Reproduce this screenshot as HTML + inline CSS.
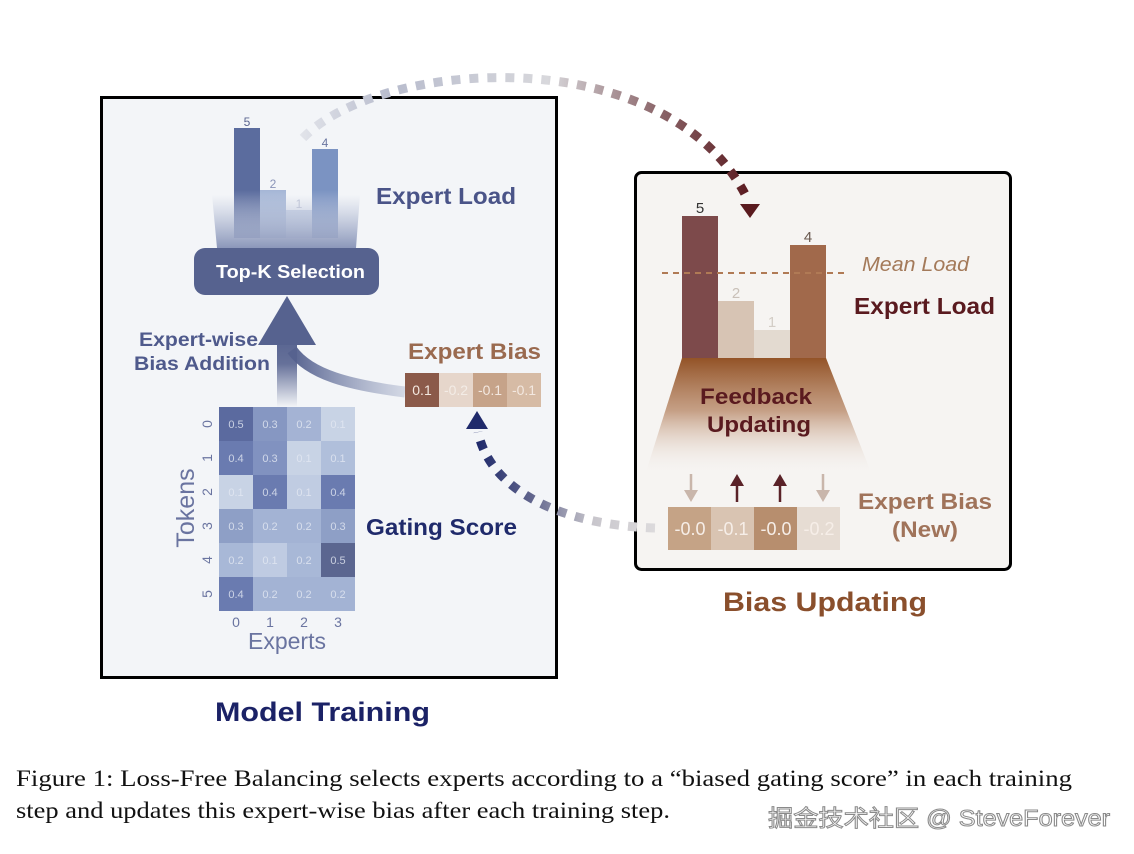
<!DOCTYPE html>
<html><head><meta charset="utf-8"><style>
body{margin:0;background:#fff;width:1134px;height:854px;overflow:hidden}
svg{display:block}
.s{font-family:"Liberation Sans",Arial,sans-serif}
</style></head><body>
<svg width="1134" height="854" viewBox="0 0 1134 854" xmlns="http://www.w3.org/2000/svg">
<defs>
<linearGradient id="barfade" x1="0" y1="0" x2="0" y2="1"><stop offset="0" stop-color="#f3f5f8" stop-opacity="0"/><stop offset="1" stop-color="#f3f5f8" stop-opacity="0.85"/></linearGradient>
<linearGradient id="funnelL" x1="0" y1="0" x2="0" y2="1"><stop offset="0" stop-color="#7a8cb8" stop-opacity="0"/><stop offset="1" stop-color="#5a6a9c" stop-opacity="0.9"/></linearGradient>
<linearGradient id="shaft" x1="0" y1="1" x2="0" y2="0"><stop offset="0" stop-color="#56628f" stop-opacity="0"/><stop offset="0.6" stop-color="#56628f" stop-opacity="0.9"/><stop offset="1" stop-color="#56628f"/></linearGradient>
<linearGradient id="curve" x1="1" y1="0" x2="0" y2="0"><stop offset="0" stop-color="#8a96b8" stop-opacity="0.3"/><stop offset="1" stop-color="#56628f"/></linearGradient>
<linearGradient id="funnelR" x1="0" y1="0" x2="0" y2="1"><stop offset="0" stop-color="#935327"/><stop offset="0.45" stop-color="#b98a6a" stop-opacity="0.8"/><stop offset="1" stop-color="#f6f4f2" stop-opacity="0"/></linearGradient>
<linearGradient id="dashTop" gradientUnits="userSpaceOnUse" x1="300" y1="0" x2="750" y2="0"><stop offset="0" stop-color="#e2e4ea"/><stop offset="0.2" stop-color="#b8bccd"/><stop offset="0.55" stop-color="#d8d8dc"/><stop offset="0.8" stop-color="#8a6468"/><stop offset="1" stop-color="#5a1a1f"/></linearGradient>
<linearGradient id="dashBot" gradientUnits="userSpaceOnUse" x1="655" y1="0" x2="478" y2="0"><stop offset="0" stop-color="#dcdadc"/><stop offset="0.35" stop-color="#c8c6cc"/><stop offset="0.7" stop-color="#60648c"/><stop offset="1" stop-color="#1f2a6b"/></linearGradient>
</defs>

<rect x="101.5" y="97.5" width="455" height="580" fill="#f3f5f8" stroke="#000" stroke-width="3"/>
<rect x="635.5" y="172.5" width="375" height="397" rx="6" fill="#f6f4f2" stroke="#000" stroke-width="3"/>

<rect x="234" y="128" width="26" height="110" fill="#5b6c9e"/>
<rect x="260" y="190" width="26" height="48" fill="#a5b6d6"/>
<rect x="286" y="210" width="26" height="28" fill="#c9d3e6"/>
<rect x="312" y="149" width="26" height="89" fill="#7b93c2"/>
<rect x="220" y="190" width="130" height="50" fill="url(#barfade)"/>
<polygon points="212,195 360,195 356,248 217,248" fill="url(#funnelL)" opacity="0.75"/>
<g class="s" font-size="12" text-anchor="middle"><text x="247" y="126" fill="#5b6590">5</text><text x="273" y="188" fill="#8a94b8">2</text><text x="299" y="208" fill="#c0c6d8">1</text><text x="325" y="147" fill="#6a76a0">4</text></g>
<rect x="194" y="248" width="185" height="47" rx="11" fill="#56628f"/>
<text class="s" x="216" y="278" font-size="18" font-weight="bold" fill="#fff" textLength="149" lengthAdjust="spacingAndGlyphs">Top-K Selection</text>
<text class="s" x="376" y="204" font-size="23" font-weight="bold" fill="#4a5488" textLength="140" lengthAdjust="spacingAndGlyphs">Expert Load</text>

<path d="M405,392 C350,385 310,375 292,350" stroke="url(#curve)" stroke-width="11" fill="none"/>
<rect x="277" y="335" width="20" height="72" fill="url(#shaft)"/>
<polygon points="287,296 316,345 258,345" fill="#56628f"/>
<g class="s" font-size="19" font-weight="bold" fill="#4f5a8c"><text x="139" y="346" textLength="119" lengthAdjust="spacingAndGlyphs">Expert-wise</text><text x="134" y="370" textLength="136" lengthAdjust="spacingAndGlyphs">Bias Addition</text></g>

<text class="s" x="408" y="359" font-size="22" font-weight="bold" fill="#9a6a4f" textLength="133" lengthAdjust="spacingAndGlyphs">Expert Bias</text>
<rect x="405" y="373" width="34" height="34" fill="#8b5a4a"/><rect x="439" y="373" width="34" height="34" fill="#e6d6cb"/><rect x="473" y="373" width="34" height="34" fill="#c6a389"/><rect x="507" y="373" width="34" height="34" fill="#d6bba5"/>
<g class="s" font-size="14" fill="#f3e8e0" text-anchor="middle"><text x="422" y="395">0.1</text><text x="456" y="395" fill="#f3ece6">-0.2</text><text x="490" y="395">-0.1</text><text x="524" y="395">-0.1</text></g>

<g>
<rect x="219" y="407" width="34" height="34" fill="#5b6a9f"/><rect x="253" y="407" width="34" height="34" fill="#8697c2"/><rect x="287" y="407" width="34" height="34" fill="#a4b3d4"/><rect x="321" y="407" width="34" height="34" fill="#c8d3e5"/>
<rect x="219" y="441" width="34" height="34" fill="#6a7bb0"/><rect x="253" y="441" width="34" height="34" fill="#8192c0"/><rect x="287" y="441" width="34" height="34" fill="#c8d3e5"/><rect x="321" y="441" width="34" height="34" fill="#b0bfdb"/>
<rect x="219" y="475" width="34" height="34" fill="#c8d3e5"/><rect x="253" y="475" width="34" height="34" fill="#6a7bb0"/><rect x="287" y="475" width="34" height="34" fill="#c0cce2"/><rect x="321" y="475" width="34" height="34" fill="#6a7bb0"/>
<rect x="219" y="509" width="34" height="34" fill="#8e9fc6"/><rect x="253" y="509" width="34" height="34" fill="#a3b3d4"/><rect x="287" y="509" width="34" height="34" fill="#a3b3d4"/><rect x="321" y="509" width="34" height="34" fill="#8e9fc6"/>
<rect x="219" y="543" width="34" height="34" fill="#a8b8d7"/><rect x="253" y="543" width="34" height="34" fill="#bfcbe2"/><rect x="287" y="543" width="34" height="34" fill="#a8b8d7"/><rect x="321" y="543" width="34" height="34" fill="#5b6690"/>
<rect x="219" y="577" width="34" height="34" fill="#6a7bb0"/><rect x="253" y="577" width="34" height="34" fill="#a3b3d4"/><rect x="287" y="577" width="34" height="34" fill="#a3b3d4"/><rect x="321" y="577" width="34" height="34" fill="#a3b3d4"/>
</g>
<g class="s" font-size="11" fill="#e4e8f2" text-anchor="middle" fill-opacity="0.8">
<text x="236" y="428">0.5</text><text x="270" y="428">0.3</text><text x="304" y="428">0.2</text><text x="338" y="428">0.1</text>
<text x="236" y="462">0.4</text><text x="270" y="462">0.3</text><text x="304" y="462">0.1</text><text x="338" y="462">0.1</text>
<text x="236" y="496">0.1</text><text x="270" y="496">0.4</text><text x="304" y="496">0.1</text><text x="338" y="496">0.4</text>
<text x="236" y="530">0.3</text><text x="270" y="530">0.2</text><text x="304" y="530">0.2</text><text x="338" y="530">0.3</text>
<text x="236" y="564">0.2</text><text x="270" y="564">0.1</text><text x="304" y="564">0.2</text><text x="338" y="564">0.5</text>
<text x="236" y="598">0.4</text><text x="270" y="598">0.2</text><text x="304" y="598">0.2</text><text x="338" y="598">0.2</text>
</g>
<g class="s" font-size="14" fill="#6a74a0" text-anchor="middle">
<text transform="translate(212,424) rotate(-90)">0</text><text transform="translate(212,458) rotate(-90)">1</text><text transform="translate(212,492) rotate(-90)">2</text><text transform="translate(212,526) rotate(-90)">3</text><text transform="translate(212,560) rotate(-90)">4</text><text transform="translate(212,594) rotate(-90)">5</text>
<text x="236" y="627">0</text><text x="270" y="627">1</text><text x="304" y="627">2</text><text x="338" y="627">3</text>
<text x="287" y="649" font-size="23">Experts</text>
<text transform="translate(194,508) rotate(-90)" font-size="25">Tokens</text>
</g>
<text class="s" x="366" y="535" font-size="23" font-weight="bold" fill="#1f2a6b" textLength="151" lengthAdjust="spacingAndGlyphs">Gating Score</text>

<rect x="682" y="216" width="36" height="142" fill="#7d4a4b"/>
<rect x="718" y="301" width="36" height="57" fill="#d7c4b4"/>
<rect x="754" y="330" width="36" height="28" fill="#e3dad0"/>
<rect x="790" y="245" width="36" height="113" fill="#a1694b"/>
<g class="s" font-size="15" text-anchor="middle"><text x="700" y="213" fill="#333">5</text><text x="736" y="298" fill="#c9c0b8">2</text><text x="772" y="327" fill="#d3cdc6">1</text><text x="808" y="242" fill="#6a5a50">4</text></g>
<line x1="662" y1="273" x2="848" y2="273" stroke="#b07a55" stroke-width="2" stroke-dasharray="6,5"/>
<text class="s" x="862" y="271" font-size="20" font-style="italic" fill="#a47a5a" textLength="107" lengthAdjust="spacingAndGlyphs">Mean Load</text>
<text class="s" x="854" y="314" font-size="23" font-weight="bold" fill="#5a1a1f" textLength="141" lengthAdjust="spacingAndGlyphs">Expert Load</text>
<polygon points="682,358 826,358 872,475 645,475" fill="url(#funnelR)"/>
<g class="s" font-size="22" font-weight="bold" fill="#5a1a1f"><text x="700" y="404" textLength="112" lengthAdjust="spacingAndGlyphs">Feedback</text><text x="707" y="432" textLength="104" lengthAdjust="spacingAndGlyphs">Updating</text></g>
<g stroke-width="2.5">
<line x1="691" y1="474" x2="691" y2="492" stroke="#c9b6ab"/><polygon points="684,490 698,490 691,502" fill="#c9b6ab"/>
<line x1="737" y1="502" x2="737" y2="484" stroke="#5a2228"/><polygon points="730,486 744,486 737,474" fill="#5a2228"/>
<line x1="780" y1="502" x2="780" y2="484" stroke="#5a2228"/><polygon points="773,486 787,486 780,474" fill="#5a2228"/>
<line x1="823" y1="474" x2="823" y2="492" stroke="#c9b6ab"/><polygon points="816,490 830,490 823,502" fill="#c9b6ab"/>
</g>
<rect x="668" y="507" width="43" height="43" fill="#c5a386"/><rect x="711" y="507" width="43" height="43" fill="#d9c4b2"/><rect x="754" y="507" width="43" height="43" fill="#b78e6e"/><rect x="797" y="507" width="43" height="43" fill="#e6dcd3"/>
<g class="s" font-size="18" fill="#f6eee8" text-anchor="middle"><text x="690" y="535">-0.0</text><text x="733" y="535">-0.1</text><text x="776" y="535">-0.0</text><text x="819" y="535">-0.2</text></g>
<g class="s" font-size="22" font-weight="bold" fill="#a0735a"><text x="858" y="509" textLength="134" lengthAdjust="spacingAndGlyphs">Expert Bias</text><text x="892" y="537" textLength="66" lengthAdjust="spacingAndGlyphs">(New)</text></g>
<text class="s" x="723" y="611" font-size="27" font-weight="bold" fill="#8a4f2c" textLength="204" lengthAdjust="spacingAndGlyphs">Bias Updating</text>
<text class="s" x="215" y="721" font-size="27" font-weight="bold" fill="#1b2266" textLength="215" lengthAdjust="spacingAndGlyphs">Model Training</text>

<path d="M303,138 C380,58 670,38 748,200" stroke="url(#dashTop)" stroke-width="9" fill="none" stroke-dasharray="9,9"/>
<polygon points="740,204 760,204 750,218" fill="#5a1a1f"/>
<path d="M655,528 C560,525 490,490 478,432" stroke="url(#dashBot)" stroke-width="9" fill="none" stroke-dasharray="9,9"/>
<polygon points="466,429 488,429 477,411" fill="#1f2a6b"/>

<g font-family="'Liberation Serif','Times New Roman',serif" font-size="23" fill="#111">
<text x="16" y="786" textLength="1056" lengthAdjust="spacingAndGlyphs">Figure 1: Loss-Free Balancing selects experts according to a “biased gating score” in each training</text>
<text x="16" y="818" textLength="654" lengthAdjust="spacingAndGlyphs">step and updates this expert-wise bias after each training step.</text>
</g>
<text x="768" y="826" font-family="'Liberation Sans','Noto Sans CJK SC',sans-serif" font-size="23" fill="#fff" stroke="#8a8a8a" stroke-width="1" textLength="342" lengthAdjust="spacingAndGlyphs">掘金技术社区 @ SteveForever</text>
</svg>
</body></html>
